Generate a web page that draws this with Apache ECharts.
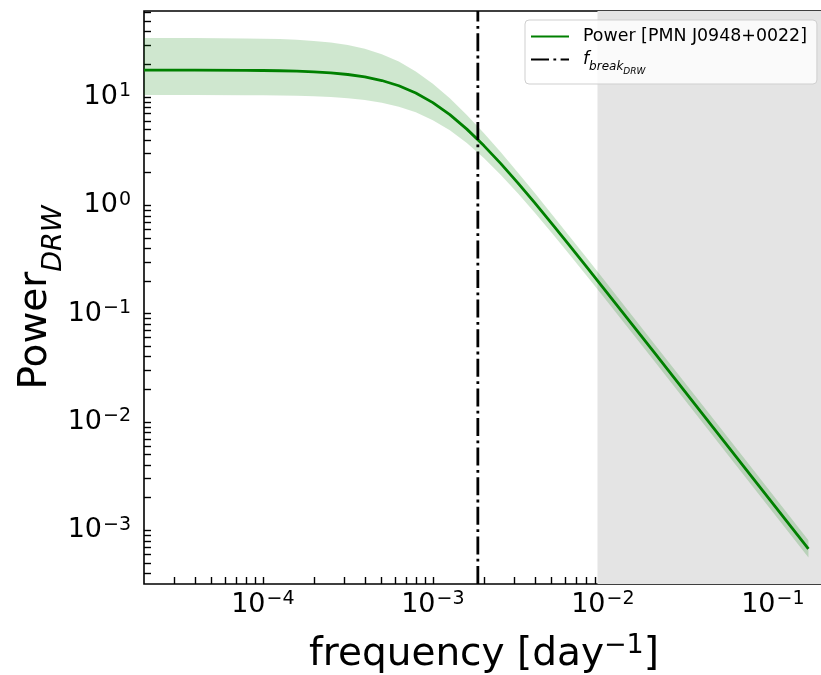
<!DOCTYPE html>
<html>
<head>
<meta charset="utf-8">
<script src="https://cdn.jsdelivr.net/npm/echarts@6/dist/echarts.min.js"></script>
<style>
  html, body { margin: 0; padding: 0; background: #fff; }
  #chart { width: 821px; height: 675px; }
</style>
</head>
<body>
<div id="chart"></div>
<script>
// Frequency grid [day^-1] and DRW power spectrum with its uncertainty band
const freq = [2.0e-5, 3.98e-5, 7.94e-5, 1.0e-4, 1.259e-4, 1.585e-4, 1.995e-4, 2.51e-4, 3.162e-4,
              3.98e-4, 5.01e-4, 6.31e-4, 7.94e-4, 1.0e-3, 1.259e-3, 1.585e-3, 1.995e-3,
              2.512e-3, 3.162e-3, 3.98e-3, 5.012e-3, 6.31e-3, 7.943e-3, 1.0e-2,
              1.995e-2, 3.98e-2, 7.94e-2, 0.162];
const power = [17.69, 17.67, 17.59, 17.52, 17.42, 17.27, 17.02, 16.65, 16.09,
               15.28, 14.15, 12.66, 10.85, 8.85, 6.85, 5.04, 3.55,
               2.42, 1.61, 1.05, 0.678, 0.434, 0.2761, 0.175,
               0.0444, 0.01116, 0.002805, 0.000675];
const powerUpper = [34.98, 34.91, 34.64, 34.43, 34.11, 33.61, 32.85, 31.71, 30.06,
                    27.78, 24.77, 21.16, 17.19, 13.24, 9.71, 6.82, 4.64,
                    3.08, 2.007, 1.294, 0.828, 0.527, 0.3343, 0.2116,
                    0.0534, 0.01344, 0.003377, 0.000811];
const powerLower = [10.40, 10.39, 10.35, 10.33, 10.28, 10.22, 10.12, 9.96, 9.71,
                    9.35, 8.83, 8.12, 7.20, 6.10, 4.91, 3.75, 2.73,
                    1.906, 1.290, 0.853, 0.555, 0.357, 0.2283, 0.1452,
                    0.0369, 0.00928, 0.002333, 0.000561];

// Break frequency of the damped random walk and the shaded frequency range
const fBreak = 1.84e-3;
const shadeStart = 9.3e-3;

// Axis limits and labelled decades
const xLimits = [2e-5, 0.2];
const yLimits = [3.2e-4, 62];
const xMajorTicks = [1e-4, 1e-3, 1e-2, 1e-1];
const yMajorTicks = [1e-3, 1e-2, 1e-1, 1e0, 1e1];

const seriesName = 'Power [PMN J0948+0022]';
const breakName = 'fbreak';

function logTicks(lo, hi) {
  const out = [];
  for (let e = Math.floor(Math.log10(lo)); e <= Math.ceil(Math.log10(hi)); e++) {
    for (let m = 1; m <= 9; m++) {
      const v = m * Math.pow(10, e);
      if (v >= lo * 1.0001 && v <= hi * 0.9999) out.push(v);
    }
  }
  return out;
}

const FONT = 'DejaVu Sans';
const MINUS = '\u2212';

function powLabel(v) {
  const e = Math.round(Math.log10(v));
  return '{b|10}{s|' + (e < 0 ? MINUS + (-e) : String(e)) + '}';
}

const tickRich = {
  b: { fontFamily: FONT, fontSize: 27, color: '#000', lineHeight: 30 },
  s: { fontFamily: FONT, fontSize: 19, color: '#000', lineHeight: 19, verticalAlign: 'top', padding: [0, 0, 0, 1] }
};

const chart = echarts.init(document.getElementById('chart'), null, { renderer: 'canvas' });

const bandData = freq.map((f, i) => [f, powerLower[i], powerUpper[i]]);

chart.setOption({
  animation: false,
  backgroundColor: '#fff',
  grid: {
    left: 144, top: 11, right: -3, bottom: 91,
    outerBoundsMode: 'none', containLabel: false,
    show: true, borderColor: '#000', borderWidth: 1.6, backgroundColor: 'transparent'
  },
  xAxis: {
    type: 'log', logBase: 10, min: xLimits[0], max: xLimits[1],
    name: '{t|frequency [day}{s|' + MINUS + '1}{t|]}',
    nameLocation: 'middle', nameGap: 48, nameMoveOverlap: false,
    nameTextStyle: {
      rich: {
        t: { fontFamily: FONT, fontSize: 39, color: '#000', lineHeight: 46 },
        s: { fontFamily: FONT, fontSize: 27, color: '#000', lineHeight: 27, verticalAlign: 'top' }
      }
    },
    axisLine: { show: false },
    splitLine: { show: false },
    axisTick: {
      show: true, inside: true, length: 7, lineStyle: { color: '#000', width: 1.4 },
      customValues: logTicks(xLimits[0], xLimits[1])
    },
    axisLabel: {
      margin: 6, customValues: xMajorTicks, formatter: powLabel, rich: tickRich
    }
  },
  yAxis: {
    type: 'log', logBase: 10, min: yLimits[0], max: yLimits[1],
    name: '{t|Power}{s|DRW}',
    nameLocation: 'middle', nameGap: 85, nameRotate: 90, nameMoveOverlap: false,
    nameTextStyle: {
      rich: {
        t: { fontFamily: FONT, fontSize: 39, color: '#000', lineHeight: 46 },
        s: { fontFamily: FONT, fontSize: 27, fontStyle: 'italic', color: '#000', lineHeight: 27, verticalAlign: 'bottom', padding: [0, 0, -8, 0] }
      }
    },
    axisLine: { show: false },
    splitLine: { show: false },
    axisTick: {
      show: true, inside: true, length: 7, lineStyle: { color: '#000', width: 1.4 },
      customValues: logTicks(yLimits[0], yLimits[1])
    },
    axisLabel: {
      margin: 13, customValues: yMajorTicks, formatter: powLabel, rich: tickRich
    }
  },
  legend: {
    orient: 'vertical',
    left: 525, top: 20,
    padding: [8, 10, 8, 5],
    itemGap: 6,
    itemWidth: 38, itemHeight: 14,
    backgroundColor: 'rgba(255,255,255,0.8)',
    borderColor: '#cfcfcf', borderWidth: 1, borderRadius: 4,
    itemStyle: { opacity: 0 },
    data: [{ name: seriesName }, { name: breakName }],
    formatter: function (name) {
      if (name === breakName) return '{f|f}{b|break}{d|DRW}';
      return '{p|' + name + '}';
    },
    textStyle: {
      padding: [0, 0, 0, 9],
      rich: {
        p: { fontFamily: FONT, fontSize: 17.4, color: '#000', lineHeight: 23 },
        f: { fontFamily: FONT, fontSize: 17.4, fontStyle: 'italic', color: '#000', lineHeight: 23 },
        b: { fontFamily: FONT, fontSize: 12, fontStyle: 'italic', color: '#000', lineHeight: 12, verticalAlign: 'bottom', padding: [0, 0, -2, 0] },
        d: { fontFamily: FONT, fontSize: 9, fontStyle: 'italic', color: '#000', lineHeight: 9, verticalAlign: 'bottom', padding: [0, 0, -5, 0] }
      }
    }
  },
  series: [
    {
      // shaded frequency range
      type: 'line', name: 'shade', data: [], silent: true, z: 1,
      markArea: {
        silent: true,
        itemStyle: { color: '#e4e4e4' },
        data: [[{ xAxis: shadeStart }, { xAxis: xLimits[1] }]]
      }
    },
    {
      // uncertainty band of the spectrum
      type: 'custom', name: 'band', z: 2, silent: true, clip: true,
      data: bandData,
      encode: { x: 0, y: [1, 2] },
      renderItem: function (params, api) {
        if (params.dataIndex !== 0) return null;
        const pts = [];
        for (let i = 0; i < bandData.length; i++) pts.push(api.coord([bandData[i][0], bandData[i][2]]));
        for (let i = bandData.length - 1; i >= 0; i--) pts.push(api.coord([bandData[i][0], bandData[i][1]]));
        return {
          type: 'polygon',
          shape: { points: pts },
          style: { fill: 'rgba(0,128,0,0.19)', stroke: null }
        };
      }
    },
    {
      type: 'line', name: seriesName, z: 4,
      data: freq.map((f, i) => [f, power[i]]),
      showSymbol: false, symbol: 'none',
      lineStyle: { color: '#008000', width: 2.8 },
      itemStyle: { color: '#008000' }
    },
    {
      type: 'line', name: breakName, z: 5,
      data: [[fBreak, yLimits[0]], [fBreak, yLimits[1]]],
      showSymbol: false, symbol: 'none',
      lineStyle: { color: '#000', width: 2.8, type: [18, 4.4, 2.8, 4.4], cap: 'butt' },
      itemStyle: { color: '#000' }
    }
  ]
});
</script>
</body>
</html>
